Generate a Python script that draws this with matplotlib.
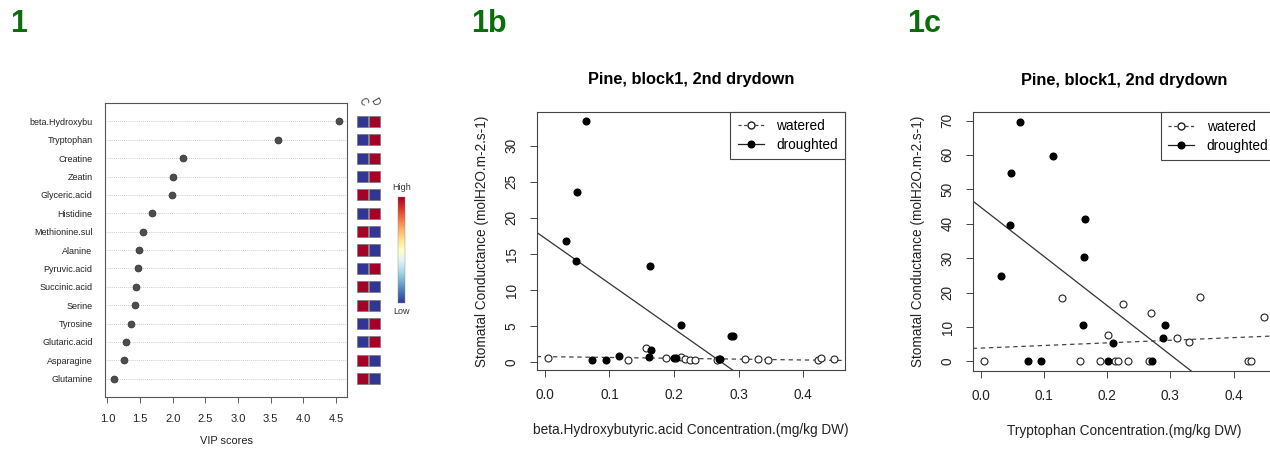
import matplotlib
matplotlib.use("Agg")
import matplotlib.pyplot as plt
import matplotlib as mpl
from matplotlib.lines import Line2D
import numpy as np

plt.rcParams['font.family'] = ['Liberation Sans', 'DejaVu Sans']

# ---- panel 1: VIP scores ----
metabolites = ["beta.Hydroxybu", "Tryptophan", "Creatine", "Zeatin", "Glyceric.acid",
               "Histidine", "Methionine.sul", "Alanine", "Pyruvic.acid", "Succinic.acid",
               "Serine", "Tyrosine", "Glutaric.acid", "Asparagine", "Glutamine"]
vip = [4.54, 3.61, 2.16, 2.01, 1.99, 1.68, 1.55, 1.49, 1.47, 1.44,
       1.42, 1.36, 1.29, 1.25, 1.10]
# relative level per group (1 = high, 0 = low)
level_C = [0, 0, 0, 0, 1, 0, 1, 1, 0, 1, 1, 0, 0, 1, 1]
level_D = [1 - v for v in level_C]
groups = ["C", "D"]
vip_ticks = [1.0, 1.5, 2.0, 2.5, 3.0, 3.5, 4.0, 4.5]

# ---- panel 1b: beta.Hydroxybutyric acid ----
bhb_wat_x = [0.005, 0.128, 0.157, 0.188, 0.211, 0.217, 0.224, 0.232, 0.267, 0.310,
             0.330, 0.346, 0.423, 0.427, 0.447]
bhb_wat_y = [0.6, 0.37, 2.0, 0.6, 0.7, 0.45, 0.37, 0.33, 0.33, 0.4,
             0.45, 0.3, 0.25, 0.65, 0.45]
bhb_dro_x = [0.063, 0.049, 0.032, 0.048, 0.163, 0.210, 0.288, 0.291, 0.165, 0.073,
             0.095, 0.115, 0.161, 0.200, 0.203, 0.269, 0.271]
bhb_dro_y = [33.4, 23.6, 16.8, 14.1, 13.4, 5.1, 3.6, 3.6, 1.7, 0.37,
             0.37, 0.83, 0.7, 0.65, 0.65, 0.42, 0.42]
bhb_fit_wat = (0.775, -1.15)   # intercept, slope
bhb_fit_dro = (17.2, -62.9)

# ---- panel 1c: Tryptophan ----
trp_wat_x = [0.005, 0.129, 0.225, 0.347, 0.269, 0.449, 0.201, 0.310, 0.330, 0.157,
             0.188, 0.212, 0.217, 0.233, 0.266, 0.423, 0.427]
trp_wat_y = [0, 18.3, 16.8, 18.6, 14.1, 13.0, 7.6, 6.7, 5.5, 0,
             0, 0, 0, 0, 0, 0, 0]
trp_dro_x = [0.062, 0.115, 0.048, 0.165, 0.047, 0.163, 0.032, 0.162, 0.292, 0.288,
             0.210, 0.074, 0.095, 0.202, 0.271]
trp_dro_y = [69.6, 59.8, 54.7, 41.4, 39.5, 30.3, 24.9, 10.7, 10.7, 6.9,
             5.4, 0, 0, 0, 0]
trp_fit_wat = (3.87, 7.6)
trp_fit_dro = (44.8, -142.9)

conc_ticks = [0.0, 0.1, 0.2, 0.3, 0.4]

W, H = 1270, 451
fig = plt.figure(figsize=(W / 100, H / 100), dpi=100)


def px_axes(l, t, r, b):
    return fig.add_axes([l / W, 1 - b / H, (r - l) / W, (b - t) / H])


BASE = 9.8
GREEN = '#0b6e0b'

# ================= panel 1 =================
ax1 = px_axes(105, 103, 347, 397)
rows = np.arange(len(metabolites), 0, -1)
for r in rows:
    ax1.axhline(r, color='#bbbbbb', lw=0.6, ls=(0, (1, 1.5)), zorder=1)
ax1.scatter(vip, rows, s=24, color='#4d4d4d', edgecolor='#333333', lw=0.6, zorder=3)
ax1.set_xlim(0.965, 4.668)
ax1.set_ylim(0, len(metabolites) + 1)
ax1.set_yticks(rows)
ax1.set_yticklabels(metabolites, fontsize=6.5, color='#222222')
ax1.tick_params(axis='y', length=0, pad=9)
ax1.set_xticks(vip_ticks)
ax1.set_xticklabels([f"{v:.1f}" for v in vip_ticks], fontsize=8, color='#222222')
ax1.tick_params(axis='x', length=4, width=0.6, color='#444444', pad=8)
for s in ax1.spines.values():
    s.set_color('#555555')
    s.set_linewidth(0.8)
ax1.set_xlabel("VIP scores", fontsize=7.9, color='#222222', labelpad=9)

# heatmap squares
axh = px_axes(356.5, 103, 380.5, 397)
cmap = plt.get_cmap('RdYlBu_r')
for gi, lev in enumerate([level_C, level_D]):
    axh.barh(rows, 0.9, left=gi + 0.05, height=0.6,
             color=[cmap(0.999 if v else 0.0) for v in lev],
             edgecolor='#777777', linewidth=0.5)
axh.set_xlim(0, 2)
axh.set_ylim(0, len(metabolites) + 1)
axh.axis('off')
for gi, g in enumerate(groups):
    axh.text(gi + 0.5, len(metabolites) + 0.75, g, rotation=-60, fontsize=7.2,
             ha='center', va='bottom', color='#333333')

# colour key
axc = px_axes(398, 197, 405, 303)
cb = mpl.colorbar.ColorbarBase(axc, cmap=cmap, orientation='vertical')
cb.set_ticks([])
cb.outline.set_linewidth(0.3)
cb.outline.set_edgecolor('#888888')
fig.text(401.5 / W, 1 - 188 / H, "High", fontsize=6.5, ha='center', va='center', color='#333333')
fig.text(401.5 / W, 1 - 312 / H, "Low", fontsize=6.5, ha='center', va='center', color='#333333')


# ================= panels 1b / 1c =================
def scatter_panel(ax, wx, wy, dx, dy, fit_w, fit_d, xlab, yticks):
    ax.plot(wx, wy, 'o', mfc='white', mec='#222222', ms=5, mew=0.8, ls='none', zorder=3)
    ax.plot(dx, dy, 'o', color='black', ms=4.8, ls='none', zorder=3)
    ax.axline((0, fit_w[0]), slope=fit_w[1], color='#444444', lw=0.9, ls=(0, (3.5, 3)))
    ax.axline((0, fit_d[0]), slope=fit_d[1], color='#333333', lw=0.9)
    allx = wx + dx
    ally = wy + dy
    xr = max(allx) - min(allx)
    yr = max(ally) - min(ally)
    ax.set_xlim(min(allx) - 0.04 * xr, max(allx) + 0.04 * xr)
    ax.set_ylim(min(ally) - 0.04 * yr, max(ally) + 0.04 * yr)
    ax.set_xticks(conc_ticks)
    ax.set_xticklabels([f"{v:.1f}" for v in conc_ticks], fontsize=BASE, color='#222222')
    ax.set_yticks(yticks)
    ax.set_yticklabels([str(v) for v in yticks], fontsize=BASE, rotation=90,
                       va='center', color='#222222')
    ax.tick_params(length=5, width=0.7, color='#444444', pad=8)
    for s in ax.spines.values():
        s.set_color('#444444')
        s.set_linewidth(0.8)
    ax.set_xlabel(xlab, fontsize=BASE, color='#222222', labelpad=15)
    ax.set_ylabel("Stomatal Conductance (molH2O.m-2.s-1)", fontsize=BASE,
                  color='#222222', labelpad=11)
    ax.set_title("Pine, block1, 2nd drydown", fontsize=11.8, fontweight='bold', pad=20)
    handles = [Line2D([], [], color='#444444', ls=(0, (2.5, 2)), lw=0.9, marker='o',
                      mfc='white', mec='#222222', ms=5),
               Line2D([], [], color='#222222', lw=0.9, marker='o', mfc='black',
                      mec='black', ms=4.8)]
    leg = ax.legend(handles, ["watered", "droughted"], loc='upper right', fontsize=BASE,
                    frameon=True, fancybox=False, framealpha=1, edgecolor='#444444',
                    borderaxespad=0, handlelength=1.9, handletextpad=0.9,
                    labelspacing=0.35, borderpad=0.55)
    leg.get_frame().set_linewidth(0.8)


ax2 = px_axes(536.7, 111.7, 845, 370)
scatter_panel(ax2, bhb_wat_x, bhb_wat_y, bhb_dro_x, bhb_dro_y, bhb_fit_wat, bhb_fit_dro,
              "beta.Hydroxybutyric.acid Concentration.(mg/kg DW)", [0, 5, 10, 15, 20, 25, 30])

ax3 = px_axes(972.7, 112.3, 1275.7, 371)
scatter_panel(ax3, trp_wat_x, trp_wat_y, trp_dro_x, trp_dro_y, trp_fit_wat, trp_fit_dro,
              "Tryptophan Concentration.(mg/kg DW)", [0, 10, 20, 30, 40, 50, 60, 70])

# panel labels
for x, lab in [(10, "1"), (471, "1b"), (907, "1c")]:
    fig.text(x / W, 1 - 24 / H, lab, fontsize=22, fontweight='bold', color=GREEN,
             ha='left', va='center')

fig.savefig("out.png", dpi=100)
